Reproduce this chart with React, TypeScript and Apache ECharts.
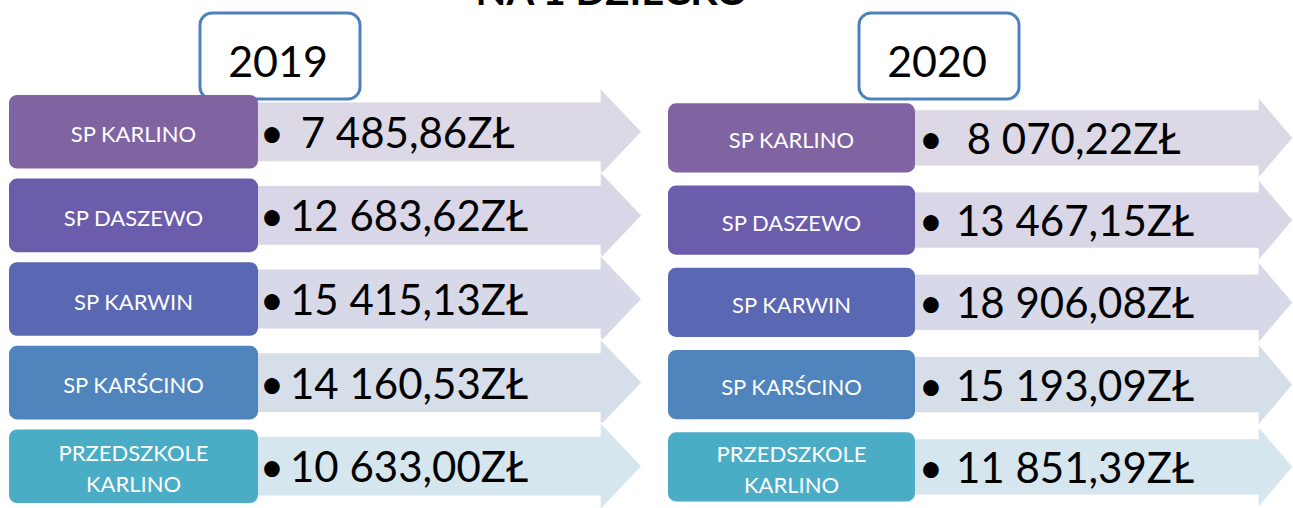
import React, { useEffect, useRef } from "react";
import * as echarts from "echarts";

const TITLE = "NA 1 DZIECKO";
const YEARS = ["2019", "2020"];
const ROWS = ["SP KARLINO", "SP DASZEWO", "SP KARWIN", "SP KARŚCINO", "PRZEDSZKOLE\nKARLINO"];
const VALUES_2019 = [7485.86, 12683.62, 15415.13, 14160.53, 10633.0];
const VALUES_2020 = [8070.22, 13467.15, 18906.08, 15193.09, 11851.39];
const BOX_COLORS = ["#8064a2", "#6b5dab", "#5a67b3", "#4f84bd", "#4bacc6"];
const BAND_COLORS = ["#dcd8e6", "#d9d7e7", "#d7d9e9", "#d6dee9", "#d6e6ee"];

function fmt(v: number): string {
  const [i, d] = v.toFixed(2).split(".");
  const g = i.replace(/\B(?=(\d{3})+(?!\d))/g, " ");
  return (v < 10000 ? " " : "") + g + "," + d + "ZŁ";
}

type Panel = { boxW: number; boxRatio: number; bulletOff: number; valueOff: number; headStart: number };

function makeRender(values: number[], p: Panel) {
  return (params: any, api: any) => {
    const idx = api.value(1);
    const [x0, cy] = api.coord([0, idx]);
    const band = api.size([1, 1])[1];
    const tip = params.coordSys.x + params.coordSys.width;
    const bh = band * p.boxRatio;
    const bandHalf = bh * 0.41;
    const headHalf = bh * 0.6;
    const hx = x0 + p.headStart;
    const boxR = x0 + p.boxW;
    return {
      type: "group",
      children: [
        {
          type: "polygon",
          shape: {
            points: [
              [x0 + 20, cy - bandHalf],
              [hx, cy - bandHalf],
              [hx, cy - headHalf],
              [tip, cy],
              [hx, cy + headHalf],
              [hx, cy + bandHalf],
              [x0 + 20, cy + bandHalf],
            ],
          },
          style: { fill: BAND_COLORS[idx], stroke: "rgba(255,255,255,0.9)", lineWidth: 1.5 },
        },
        {
          type: "rect",
          shape: { x: x0, y: cy - bh / 2, width: p.boxW, height: bh, r: 8 },
          style: { fill: BOX_COLORS[idx] },
        },
        {
          type: "text",
          x: x0 + p.boxW / 2,
          y: cy + 2,
          style: {
            text: ROWS[idx],
            fill: "#ffffff",
            font: "22px Lato",
            lineHeight: 31,
            align: "center",
            verticalAlign: "middle",
            textAlign: "center",
            textVerticalAlign: "middle",
          },
        },
        {
          type: "text",
          x: boxR + p.bulletOff,
          y: cy,
          style: {
            text: "•",
            fill: "#000000",
            font: "42px Lato",
            align: "center",
            verticalAlign: "middle",
            textAlign: "center",
            textVerticalAlign: "middle",
          },
        },
        {
          type: "text",
          x: boxR + p.valueOff,
          y: cy,
          style: {
            text: fmt(values[idx]),
            fill: "#000000",
            font: "42px Lato",
            align: "left",
            verticalAlign: "middle",
            textAlign: "left",
            textVerticalAlign: "middle",
          },
        },
      ],
    };
  };
}

export default function App() {
  const ref = useRef<HTMLDivElement>(null);
  useEffect(() => {
    if (!ref.current) return;
    const chart = echarts.init(ref.current, undefined, { renderer: "svg" });
    const data = ROWS.map((_, i) => [0, i]);
    const left: Panel = { boxW: 249, boxRatio: 0.88, bulletOff: 14, valueOff: 32, headStart: 591 };
    const right: Panel = { boxW: 247, boxRatio: 0.84, bulletOff: 16, valueOff: 41, headStart: 590 };
    const yearBox = (x: number, label: string) => ({
      type: "group",
      z: 100,
      children: [
        {
          type: "rect",
          shape: { x, y: 13, width: 160, height: 86, r: 12 },
          style: { fill: "#ffffff", stroke: "#4f81bd", lineWidth: 3 },
        },
        {
          type: "text",
          x: x + 78,
          y: 60,
          style: {
            text: label,
            fill: "#000000",
            font: "43px Lato",
            align: "center",
            verticalAlign: "middle",
            textAlign: "center",
            textVerticalAlign: "middle",
          },
        },
      ],
    });
    chart.setOption({
      animation: false,
      backgroundColor: "#ffffff",
      grid: [
        { left: 9, top: 90, width: 633, height: 425 },
        { left: 668, top: 96.75, width: 632, height: 412.5 },
      ],
      xAxis: [
        { type: "value", min: 0, max: 1, show: false, gridIndex: 0 },
        { type: "value", min: 0, max: 1, show: false, gridIndex: 1 },
      ],
      yAxis: [
        { type: "category", data: ROWS, inverse: true, show: false, gridIndex: 0 },
        { type: "category", data: ROWS, inverse: true, show: false, gridIndex: 1 },
      ],
      series: [
        {
          type: "custom",
          name: YEARS[0],
          xAxisIndex: 0,
          yAxisIndex: 0,
          clip: false,
          data,
          encode: { x: 0, y: 1 },
          renderItem: makeRender(VALUES_2019, left),
        },
        {
          type: "custom",
          name: YEARS[1],
          xAxisIndex: 1,
          yAxisIndex: 1,
          clip: false,
          data,
          encode: { x: 0, y: 1 },
          renderItem: makeRender(VALUES_2020, right),
        },
      ],
      graphic: [
        {
          type: "text",
          x: 612,
          y: -10,
          z: 50,
          style: {
            text: TITLE,
            fill: "#000000",
            font: "bold 40px Lato",
            align: "center",
            verticalAlign: "middle",
            textAlign: "center",
            textVerticalAlign: "middle",
          },
        },
        yearBox(200, YEARS[0]),
        yearBox(859, YEARS[1]),
      ],
    });
    return () => chart.dispose();
  }, []);
  return (
    <div
      ref={ref}
      style={{ position: "fixed", left: 0, top: 0, width: 1293, height: 508 }}
    />
  );
}
